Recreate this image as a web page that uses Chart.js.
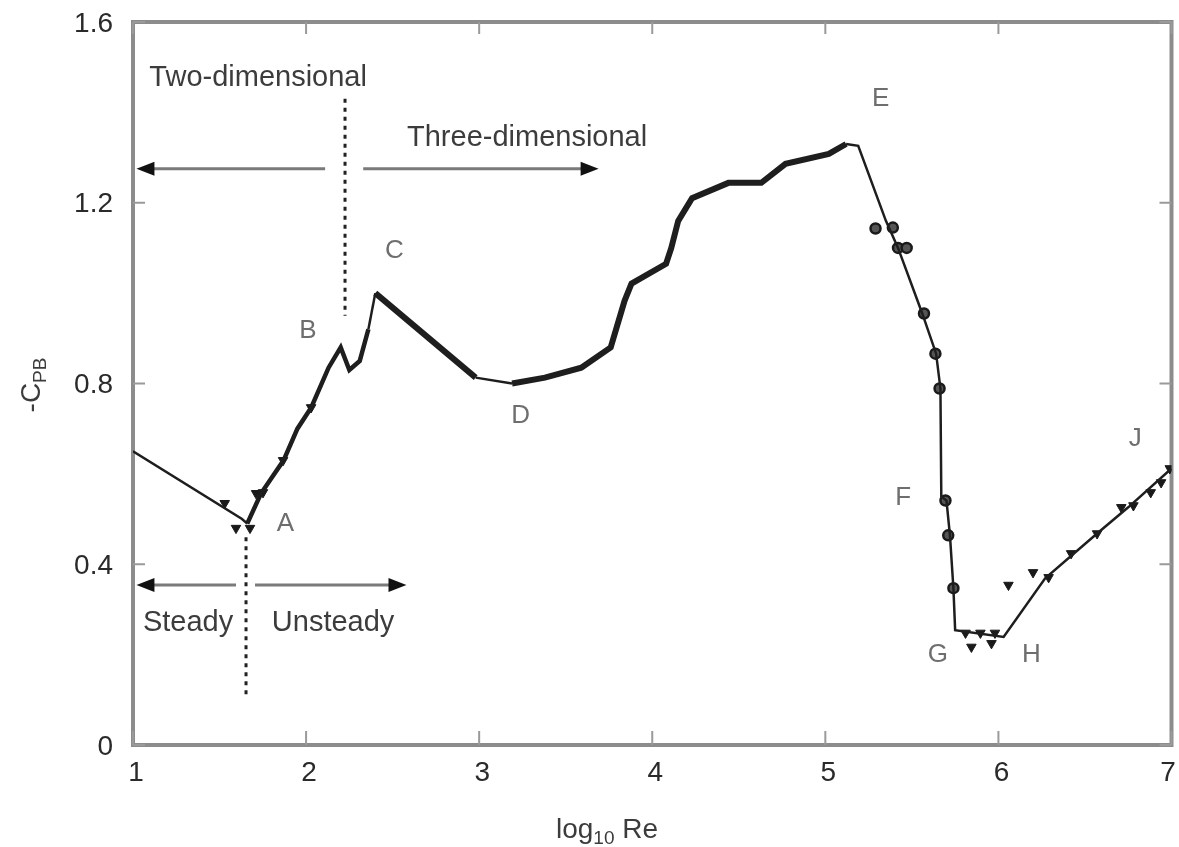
<!DOCTYPE html>
<html>
<head>
<meta charset="utf-8">
<script src="https://cdn.jsdelivr.net/npm/chart.js@4.4.0/dist/chart.umd.min.js"></script>
<style>
  html, body { margin: 0; padding: 0; background: #fff; }
  #wrap { width: 1179px; height: 847px; }
</style>
</head>
<body>
<div id="wrap"><canvas id="chart" width="1179" height="847"></canvas></div>
<script>
// main curve, log10 Re vs -Cpb
const mainX = [1.0, 1.63, 1.66, 1.74, 1.87, 1.95, 2.03, 2.13, 2.20, 2.25, 2.31, 2.36, 2.40,
  2.98, 3.19, 3.38, 3.59, 3.76, 3.84, 3.88, 4.08, 4.11, 4.15, 4.23, 4.44, 4.63, 4.77, 5.02, 5.12, 5.19,
  5.35, 5.42, 5.56, 5.64, 5.665, 5.67, 5.70, 5.72, 5.74, 5.75, 6.03, 6.27, 6.57, 6.75, 7.0];
const mainY = [0.65, 0.50, 0.49, 0.557, 0.63, 0.70, 0.747, 0.835, 0.88, 0.83, 0.85, 0.92, 1.0,
  0.813, 0.80, 0.813, 0.835, 0.88, 0.983, 1.021, 1.065, 1.10, 1.16, 1.21, 1.244, 1.244, 1.286, 1.308, 1.33, 1.326,
  1.16, 1.10, 0.955, 0.866, 0.789, 0.55, 0.541, 0.464, 0.347, 0.254, 0.239, 0.369, 0.468, 0.526, 0.612];

// measured points, downward triangles
const triX = [1.53, 1.595, 1.676, 1.711, 1.751, 1.867, 2.029, 5.81, 5.844, 5.896, 5.96, 5.98,
  6.058, 6.20, 6.29, 6.42, 6.57, 6.71, 6.78, 6.88, 6.94, 6.99];
const triY = [0.535, 0.48, 0.48, 0.557, 0.559, 0.63, 0.747, 0.248, 0.217, 0.248, 0.225, 0.248,
  0.354, 0.382, 0.371, 0.424, 0.468, 0.526, 0.53, 0.559, 0.581, 0.612];

// measured points, circles
const circX = [5.29, 5.39, 5.42, 5.47, 5.57, 5.636, 5.66, 5.694, 5.71, 5.74];
const circY = [1.143, 1.145, 1.10, 1.10, 0.955, 0.866, 0.789, 0.541, 0.464, 0.347];

const xTicks = [1, 2, 3, 4, 5, 6, 7];
const yTicks = [0, 0.4, 0.8, 1.2, 1.6];
const yTickText = ['0', '0.4', '0.8', '1.2', '1.6'];

const pointLabels = ['A', 'B', 'C', 'D', 'E', 'F', 'G', 'H', 'J'];
const pointLabelX = [1.88, 2.01, 2.51, 3.24, 5.32, 5.45, 5.65, 6.19, 6.79];
const pointLabelY = [0.49, 0.917, 1.094, 0.729, 1.43, 0.546, 0.199, 0.199, 0.678];

const regionText = ['Two-dimensional', 'Three-dimensional', 'Steady', 'Unsteady'];
const regionTextX = [1.723, 3.277, 1.318, 2.156];
const regionTextY = [1.476, 1.344, 0.27, 0.27];

const FONT = '"Liberation Sans", Arial, Helvetica, sans-serif';
const thickSpans = [[2.38, 2.99], [3.18, 5.13]];
const mediumSpans = [[1.66, 2.38]];

function toPts(xs, ys) {
  return xs.map((x, i) => ({ x: x, y: ys[i] }));
}

function inSpan(spans, a, b) {
  return spans.some(s => a >= s[0] - 1e-6 && b <= s[1] + 1e-6);
}

function arrowHead(ctx, x, y, dir) {
  ctx.beginPath();
  ctx.moveTo(x, y);
  ctx.lineTo(x - dir * 18, y - 7);
  ctx.lineTo(x - dir * 18, y + 7);
  ctx.closePath();
  ctx.fill();
}

function hArrow(ctx, xs, ys, x0, x1, y) {
  const px0 = xs.getPixelForValue(x0), px1 = xs.getPixelForValue(x1);
  const py = ys.getPixelForValue(y);
  const dir = px1 > px0 ? 1 : -1;
  ctx.strokeStyle = '#7a7a7a';
  ctx.lineWidth = 3;
  ctx.beginPath();
  ctx.moveTo(px0, py);
  ctx.lineTo(px1 - dir * 10, py);
  ctx.stroke();
  ctx.fillStyle = '#111';
  arrowHead(ctx, px1, py, dir);
}

function vDash(ctx, xs, ys, x, y0, y1) {
  ctx.save();
  ctx.strokeStyle = '#222';
  ctx.lineWidth = 3;
  ctx.setLineDash([4, 5]);
  ctx.beginPath();
  ctx.moveTo(xs.getPixelForValue(x), ys.getPixelForValue(y0));
  ctx.lineTo(xs.getPixelForValue(x), ys.getPixelForValue(y1));
  ctx.stroke();
  ctx.restore();
}

const overlay = {
  id: 'overlay',
  beforeDatasetsDraw(chart) {
    const ctx = chart.ctx, a = chart.chartArea;
    const xs = chart.scales.x, ys = chart.scales.y;
    ctx.save();
    // frame
    ctx.strokeStyle = '#8c8c8c';
    ctx.lineWidth = 4;
    ctx.strokeRect(a.left, a.top, a.right - a.left, a.bottom - a.top);
    // inward ticks
    ctx.lineWidth = 2;
    ctx.strokeStyle = '#9a9a9a';
    yTicks.forEach(v => {
      const py = ys.getPixelForValue(v);
      ctx.beginPath();
      ctx.moveTo(a.left, py); ctx.lineTo(a.left + 12, py);
      ctx.moveTo(a.right, py); ctx.lineTo(a.right - 12, py);
      ctx.stroke();
    });
    xTicks.forEach(v => {
      const px = xs.getPixelForValue(v);
      ctx.beginPath();
      ctx.moveTo(px, a.bottom); ctx.lineTo(px, a.bottom - 14);
      ctx.moveTo(px, a.top); ctx.lineTo(px, a.top + 12);
      ctx.stroke();
    });
    // tick labels
    ctx.fillStyle = '#2a2a2a';
    ctx.font = '28px ' + FONT;
    ctx.textBaseline = 'middle';
    ctx.textAlign = 'right';
    yTicks.forEach((v, i) => {
      ctx.fillText(yTickText[i], a.left - 20, ys.getPixelForValue(v) + 2);
    });
    ctx.textAlign = 'center';
    xTicks.forEach(v => {
      const px = Math.min(xs.getPixelForValue(v) + 3, chart.width - 11);
      ctx.fillText(String(v), px, a.bottom + 28);
    });
    // dashed separators
    vDash(ctx, xs, ys, 2.225, 1.43, 0.95);
    vDash(ctx, xs, ys, 1.653, 0.46, 0.106);
    // arrows
    hArrow(ctx, xs, ys, 2.11, 1.02, 1.275);
    hArrow(ctx, xs, ys, 2.33, 3.69, 1.275);
    hArrow(ctx, xs, ys, 1.595, 1.02, 0.354);
    hArrow(ctx, xs, ys, 1.705, 2.58, 0.354);
    ctx.restore();
  },
  afterDatasetsDraw(chart) {
    const ctx = chart.ctx;
    const xs = chart.scales.x, ys = chart.scales.y;
    ctx.save();
    ctx.textAlign = 'center';
    ctx.textBaseline = 'middle';
    ctx.fillStyle = '#6e6e6e';
    ctx.font = '26px ' + FONT;
    pointLabels.forEach((t, i) => {
      ctx.fillText(t, xs.getPixelForValue(pointLabelX[i]), ys.getPixelForValue(pointLabelY[i]));
    });
    ctx.fillStyle = '#3c3c3c';
    ctx.font = '29px ' + FONT;
    regionText.forEach((t, i) => {
      ctx.fillText(t, xs.getPixelForValue(regionTextX[i]), ys.getPixelForValue(regionTextY[i]));
    });

    // x axis title: log10 Re
    ctx.fillStyle = '#3c3c3c';
    ctx.textAlign = 'left';
    ctx.textBaseline = 'alphabetic';
    const big = '28px ' + FONT, small = '19px ' + FONT;
    ctx.font = big;
    const w1 = ctx.measureText('log').width;
    ctx.font = small;
    const w2 = ctx.measureText('10').width;
    ctx.font = big;
    const w3 = ctx.measureText(' Re').width;
    let x0 = 607 - (w1 + w2 + w3) / 2;
    const yb = 838;
    ctx.fillText('log', x0, yb);
    ctx.font = small;
    ctx.fillText('10', x0 + w1, yb + 6);
    ctx.font = big;
    ctx.fillText(' Re', x0 + w1 + w2, yb);

    // y axis title: -C_PB
    ctx.translate(40, 385);
    ctx.rotate(-Math.PI / 2);
    ctx.font = big;
    const t1 = ctx.measureText('-C').width;
    ctx.font = small;
    const t2 = ctx.measureText('PB').width;
    const s0 = -(t1 + t2) / 2;
    ctx.font = big;
    ctx.fillText('-C', s0, 0);
    ctx.font = small;
    ctx.fillText('PB', s0 + t1, 6);
    ctx.restore();
  }
};

const ctx = document.getElementById('chart').getContext('2d');
new Chart(ctx, {
  type: 'scatter',
  data: {
    datasets: [
      {
        label: 'curve',
        data: toPts(mainX, mainY),
        showLine: true,
        borderColor: '#1e1e1e',
        borderWidth: 2.5,
        pointRadius: 0,
        tension: 0,
        segment: {
          borderWidth: c => {
            const a = c.p0.parsed.x, b = c.p1.parsed.x;
            if (inSpan(thickSpans, a, b)) return 6;
            if (inSpan(mediumSpans, a, b)) return 4.5;
            return 2.5;
          }
        }
      },
      {
        label: 'triangles',
        data: toPts(triX, triY),
        showLine: false,
        pointStyle: 'triangle',
        rotation: 180,
        pointRadius: 5.5,
        backgroundColor: '#1a1a1a',
        borderColor: '#1a1a1a',
        borderWidth: 1
      },
      {
        label: 'circles',
        data: toPts(circX, circY),
        showLine: false,
        pointStyle: 'circle',
        pointRadius: 5,
        backgroundColor: '#555',
        borderColor: '#1a1a1a',
        borderWidth: 2.5
      }
    ]
  },
  options: {
    responsive: false,
    animation: false,
    layout: { padding: { left: 0, top: 22, right: 7, bottom: 0 } },
    plugins: {
      legend: { display: false },
      tooltip: { enabled: false }
    },
    scales: {
      x: {
        type: 'linear',
        min: 1,
        max: 7,
        afterFit: s => { s.height = 102; },
        grid: { display: false, drawTicks: false },
        border: { display: false },
        ticks: { display: false }
      },
      y: {
        type: 'linear',
        min: 0,
        max: 1.6,
        afterFit: s => { s.width = 133; },
        grid: { display: false, drawTicks: false },
        border: { display: false },
        ticks: { display: false }
      }
    }
  },
  plugins: [overlay]
});
</script>
</body>
</html>
